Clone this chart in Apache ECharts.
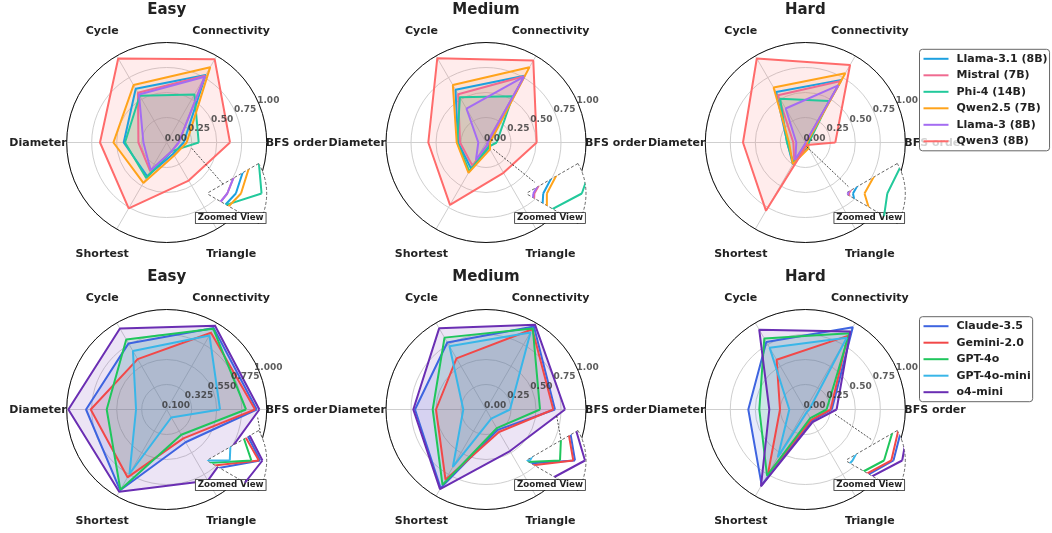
<!DOCTYPE html>
<html>
<head>
<meta charset="utf-8">
<title>Graph task radar</title>
<script src="https://cdn.jsdelivr.net/npm/echarts@6/dist/echarts.min.js"></script>
<style>
  html, body { margin: 0; padding: 0; background: #ffffff; }
  #radar-grid { width: 1052px; height: 533px; }
</style>
</head>
<body>
<div id="radar-grid"></div>
<script>
// --- Data ---
var TASKS = ['BFS order', 'Connectivity', 'Cycle', 'Diameter', 'Shortest', 'Triangle'];
var LEVELS = ['Easy', 'Medium', 'Hard'];

var OPEN_MODELS = ['Llama-3.1 (8B)', 'Mistral (7B)', 'Phi-4 (14B)', 'Qwen2.5 (7B)', 'Llama-3 (8B)', 'Qwen3 (8B)'];
var API_MODELS = ['Claude-3.5', 'Gemini-2.0', 'GPT-4o', 'GPT-4o-mini', 'o4-mini'];

// one row per model, columns follow TASKS
var openEasy = [
  [0.17, 0.78, 0.62, 0.43, 0.39, 0.13],
  [0.12, 0.77, 0.575, 0.283, 0.33, 0.10],
  [0.32, 0.555, 0.54, 0.417, 0.41, 0.10],
  [0.20, 0.87, 0.663, 0.533, 0.467, 0.15],
  [0.12, 0.76, 0.555, 0.233, 0.32, 0.10],
  [0.633, 0.96, 0.97, 0.667, 0.76, 0.44]
];
var openMedium = [
  [0.033, 0.77, 0.61, 0.28, 0.30, 0.06],
  [0.016, 0.765, 0.557, 0.26, 0.27, 0.03],
  [0.107, 0.535, 0.523, 0.287, 0.334, 0.05],
  [0.04, 0.87, 0.663, 0.293, 0.35, 0.08],
  [0.014, 0.76, 0.39, 0.077, 0.20, 0.025],
  [0.507, 0.946, 0.974, 0.577, 0.72, 0.35]
];
var openHard = [
  [0.0064, 0.723, 0.584, 0.18, 0.25, 0.02],
  [0.003, 0.71, 0.546, 0.12, 0.22, 0.01],
  [0.035, 0.48, 0.504, 0.183, 0.237, 0.056],
  [0.016, 0.80, 0.634, 0.163, 0.25, 0.067],
  [0.002, 0.66, 0.393, 0.09, 0.20, 0.005],
  [0.30, 0.895, 0.97, 0.623, 0.787, 0.03]
];
var apiEasy = [
  [0.91, 0.946, 0.787, 0.826, 0.939, 0.44],
  [0.895, 0.898, 0.623, 0.784, 0.805, 0.40],
  [0.814, 0.939, 0.828, 0.64, 0.934, 0.3625],
  [0.58, 0.87, 0.708, 0.376, 0.77, 0.183],
  [0.934, 0.97, 0.942, 0.985, 0.955, 0.84]
];
var apiMedium = [
  [0.69, 0.958, 0.774, 0.71, 0.908, 0.235],
  [0.673, 0.927, 0.59, 0.5, 0.81, 0.26],
  [0.54, 0.936, 0.83, 0.533, 0.87, 0.216],
  [0.24, 0.89, 0.73, 0.227, 0.663, 0.106],
  [0.79, 0.98, 0.937, 0.727, 0.92, 0.48]
];
var apiHard = [
  [0.265, 0.95, 0.78, 0.57, 0.873, 0.13],
  [0.253, 0.85, 0.574, 0.253, 0.748, 0.12],
  [0.213, 0.88, 0.82, 0.46, 0.765, 0.10],
  [0.04, 0.828, 0.714, 0.16, 0.55, 0.03],
  [0.313, 0.90, 0.922, 0.36, 0.887, 0.146]
];

// radial ticks
var TICKS = [0, 0.25, 0.5, 0.75, 1.0];
var TICKS_API_EASY = [0.1, 0.325, 0.55, 0.775, 1.0];

// radial range shown in each "Zoomed View" inset
var ZOOM_RANGES = [[0, 0.35], [0, 0.115], [0, 0.05], [0.33, 0.98], [0.2, 0.8], [0, 0.33]];

(function () {
  'use strict';

  var FONT = '"DejaVu Sans", "Liberation Sans", sans-serif';
  var OPEN_COLORS = ['#1ca0e0', '#f06a90', '#22c99b', '#ffa31a', '#a46cf2', '#ff6b6b'];
  var API_COLORS = ['#3e64e0', '#f24848', '#1fc65c', '#39b6e8', '#6a2eb3'];

  // --- Layout ---
  var COLS = [166.7, 486, 805.3];
  var ROWS = [142.5, 409.5];
  var R = 100;
  var NAME_R = 129;
  var INSET_DX = 40, INSET_DY = 51, INSET_R = 60;
  // dotted connector from the main radar to the inset, offsets from the panel centre
  var CONNECTORS = [
    [25, 5.8, 56.6, 41.8], [7.3, 6.8, 49, 40], [1.4, 4.2, 43, 44],
    [91, 8, 95, 31], [70.7, 6.5, 77.3, 43.2], [29.7, 4.8, 66, 30]
  ];

  var panels = [
    { values: openEasy, models: OPEN_MODELS, colors: OPEN_COLORS, ticks: TICKS, digits: 2, skip: 'Qwen3 (8B)' },
    { values: openMedium, models: OPEN_MODELS, colors: OPEN_COLORS, ticks: TICKS, digits: 2, skip: 'Qwen3 (8B)' },
    { values: openHard, models: OPEN_MODELS, colors: OPEN_COLORS, ticks: TICKS, digits: 2, skip: 'Qwen3 (8B)' },
    { values: apiEasy, models: API_MODELS, colors: API_COLORS, ticks: TICKS_API_EASY, digits: 3, skip: null },
    { values: apiMedium, models: API_MODELS, colors: API_COLORS, ticks: TICKS, digits: 2, skip: null },
    { values: apiHard, models: API_MODELS, colors: API_COLORS, ticks: TICKS, digits: 2, skip: null }
  ];

  function closedRing(row) {
    var pts = row.map(function (v, k) { return [v, k * 60]; });
    pts.push([row[0], 360]);
    return pts;
  }

  function textEl(text, x, y, size, align, z) {
    return {
      type: 'text', x: x, y: y, z: z || 1, silent: true,
      style: {
        text: text, fill: '#222', fontSize: size, fontWeight: 'bold', fontFamily: FONT,
        align: align, textAlign: align, verticalAlign: 'middle', textVerticalAlign: 'middle'
      }
    };
  }

  var polar = [], angleAxis = [], radiusAxis = [], series = [], graphic = [];
  var hidden = { show: false };

  panels.forEach(function (p, i) {
    var cx = COLS[i % 3];
    var cy = ROWS[Math.floor(i / 3)];
    var ticks = p.ticks;
    var rMin = ticks[0], rMax = ticks[ticks.length - 1];
    var zoom = ZOOM_RANGES[i];

    // main radar
    var mi = polar.length;
    polar.push({ center: [cx, cy], radius: R });
    angleAxis.push({
      polarIndex: mi, type: 'value', min: 0, max: 360, interval: 60,
      startAngle: 0, clockwise: false, z: 1,
      axisLine: { lineStyle: { color: '#111', width: 1 } },
      axisTick: hidden, axisLabel: hidden,
      splitLine: { lineStyle: { color: '#cfcfcf', width: 1 } }
    });
    radiusAxis.push({
      polarIndex: mi, type: 'value', min: rMin, max: rMax,
      interval: (rMax - rMin) / (ticks.length - 1), z: 0,
      axisLine: hidden, axisTick: hidden, axisLabel: hidden,
      splitLine: { lineStyle: { color: '#cfcfcf', width: 1 } }
    });

    // inset axes (zoomed radial range)
    var ic = [cx + INSET_DX, cy + INSET_DY];
    var zi = polar.length;
    polar.push({ center: ic, radius: INSET_R });
    angleAxis.push({
      polarIndex: zi, type: 'value', min: -30, max: 30, interval: 60,
      startAngle: -30, endAngle: 30, clockwise: false, z: 6,
      axisLine: { lineStyle: { color: '#555', width: 0.9, type: [3, 2] } },
      axisTick: hidden, axisLabel: hidden,
      splitLine: { lineStyle: { color: '#555', width: 0.9, type: [3, 2] } }
    });
    radiusAxis.push({ polarIndex: zi, type: 'value', min: zoom[0], max: zoom[1], show: false });

    // white backing of the inset wedge
    graphic.push({
      type: 'sector', z: 5, silent: true,
      shape: { cx: ic[0], cy: ic[1], r0: 0, r: INSET_R, startAngle: -Math.PI / 6, endAngle: Math.PI / 6, clockwise: true },
      style: { fill: '#ffffff' }
    });

    p.models.forEach(function (name, m) {
      var color = p.colors[m];
      var row = p.values[m];
      series.push({
        type: 'line', name: name, coordinateSystem: 'polar', polarIndex: mi,
        data: closedRing(row), symbol: 'none', z: 2, silent: true,
        lineStyle: { color: color, width: 2 },
        itemStyle: { color: color },
        areaStyle: { color: color, opacity: 0.13 }
      });
      if (name !== p.skip) {
        // inset: values under the zoomed range sit on the inset origin
        var clipped = row.map(function (v) { return Math.max(v, zoom[0]); });
        series.push({
          type: 'line', name: name, coordinateSystem: 'polar', polarIndex: zi,
          data: closedRing(clipped), symbol: 'none', z: 8, clip: true, silent: true,
          lineStyle: { color: color, width: 2 },
          itemStyle: { color: color }
        });
      }
    });

    // radial tick labels along 22.5 degrees
    series.push({
      type: 'scatter', coordinateSystem: 'polar', polarIndex: mi, z: 3, silent: true,
      symbolSize: 0,
      data: ticks.map(function (t) { return [t, 22.5]; }),
      label: {
        show: true, position: 'inside', offset: [9.2, -3.8],
        formatter: function (q) { return q.value[0].toFixed(p.digits); },
        fontFamily: FONT, fontWeight: 'bold', fontSize: 9, color: '#333'
      }
    });

    // titles and task names
    graphic.push(textEl(LEVELS[i % 3], cx, cy - 132, 15, 'center', 1));
    TASKS.forEach(function (t, k) {
      var a = k * Math.PI / 3;
      if (k === 0) {
        graphic.push(textEl(t, cx + R - 1, cy + 1, 11, 'left', 1));
      } else if (k === 3) {
        graphic.push(textEl(t, cx - R, cy + 1, 11, 'right', 1));
      } else {
        graphic.push(textEl(t, cx + NAME_R * Math.cos(a), cy - NAME_R * Math.sin(a), 11, 'center', 1));
      }
    });

    var c = CONNECTORS[i];
    graphic.push({
      type: 'line', z: 4, silent: true,
      shape: { x1: cx + c[0], y1: cy + c[1], x2: cx + c[2], y2: cy + c[3] },
      style: { stroke: '#222', lineWidth: 0.8, lineDash: [2, 1.5] }
    });

    var lbl = textEl('Zoomed View', cx + 64, cy + 75.5, 8.7, 'center', 7);
    lbl.style.backgroundColor = '#ffffff';
    lbl.style.borderColor = '#222';
    lbl.style.borderWidth = 0.8;
    lbl.style.padding = [1, 2, 0, 2];
    graphic.push(lbl);
  });

  function legendFor(names, top) {
    return {
      data: names, orient: 'vertical', left: 919.5, top: top, z: 20,
      icon: 'rect', itemWidth: 25, itemHeight: 2, itemGap: 3.5,
      padding: [3, 2, 3, 4],
      backgroundColor: 'rgba(255,255,255,0.8)',
      borderColor: '#666', borderWidth: 1, borderRadius: 3,
      selectedMode: false,
      textStyle: {
        fontFamily: FONT, fontWeight: 'bold', fontSize: 11, color: '#222',
        lineHeight: 13, padding: [0, 0, 0, 3]
      }
    };
  }

  var chart = echarts.init(document.getElementById('radar-grid'), null, { renderer: 'canvas' });
  chart.setOption({
    animation: false,
    backgroundColor: '#ffffff',
    polar: polar,
    angleAxis: angleAxis,
    radiusAxis: radiusAxis,
    legend: [legendFor(OPEN_MODELS, 49.3), legendFor(API_MODELS, 316.7)],
    graphic: { elements: graphic },
    series: series
  });
})();
</script>
</body>
</html>
